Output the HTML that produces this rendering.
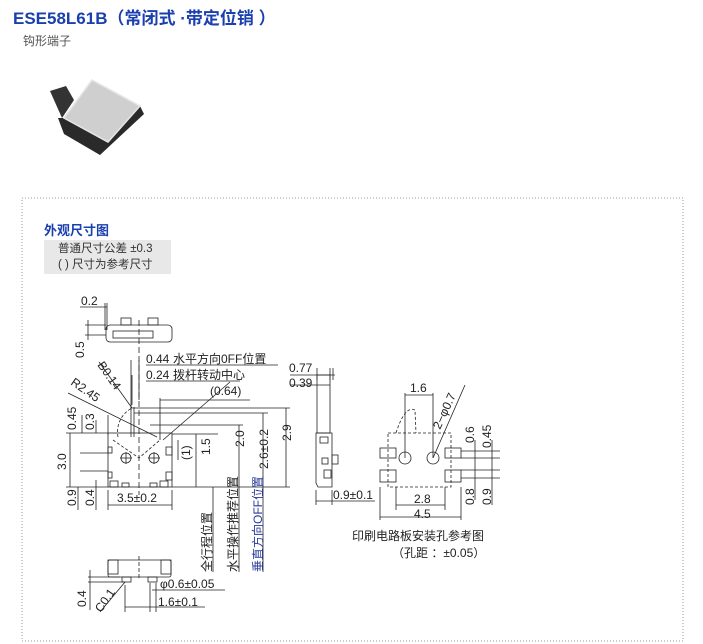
<!DOCTYPE html>
<html><head><meta charset="utf-8"><style>
body{margin:0;background:#fff;width:703px;height:644px;overflow:hidden;font-family:"Liberation Sans","Noto Sans CJK SC",sans-serif}
.t{position:absolute;white-space:nowrap}
</style></head><body>
<div class="t" style="left:13px;top:4px;font-size:17px;font-weight:bold;color:#1a3fae">ESE58L61B（常闭式 ·带定位销 ）</div>
<div class="t" style="left:23px;top:32px;font-size:12px;color:#555">钩形端子</div>
<svg style="position:absolute;left:0;top:0" width="703" height="644">
<!-- photo -->
<path d="M50 91 L66 86 L74 100 L62 118 Z" fill="#333"/>
<path d="M58 118 L64 134 L100 155 L144 114 L140 106 L108 142 L64 118 Z" fill="#2a2a2a"/>
<path d="M64 118 L92 80 L140 106 L108 142 Z" fill="#cfcfcf" stroke="#e6e6e6" stroke-width="1.5"/>
<rect x="22" y="198" width="661" height="443" fill="none" stroke="#999" stroke-dasharray="1,2"/>
<g stroke="#222" stroke-width="0.8" fill="none">
<rect x="106" y="325" width="66" height="17" rx="4"/>
<rect x="121" y="318" width="10" height="7"/><rect x="148" y="318" width="10" height="7"/>
<rect x="113" y="331" width="40" height="7"/>
<line x1="80" y1="307" x2="107" y2="307"/><line x1="105" y1="303" x2="105" y2="330"/><line x1="107" y1="303" x2="107" y2="330"/>
<line x1="85" y1="325" x2="106" y2="325"/><line x1="85" y1="335" x2="106" y2="335"/><line x1="88" y1="320" x2="88" y2="340"/>
<line x1="139" y1="320" x2="139" y2="495" stroke-dasharray="6,3"/>
<rect x="108" y="433" width="64" height="54"/>
<rect x="110" y="481" width="8" height="6"/><rect x="160" y="481" width="8" height="6"/><rect x="122" y="483" width="7" height="4"/><rect x="150" y="483" width="7" height="4"/>
<rect x="166" y="447" width="6" height="8"/><rect x="166" y="472" width="6" height="8"/><rect x="108" y="447" width="4" height="6"/><rect x="108" y="472" width="4" height="6"/>
<circle cx="126" cy="458" r="5"/><circle cx="154" cy="458" r="5"/>
<line x1="120" y1="458" x2="132" y2="458"/><line x1="126" y1="452" x2="126" y2="464"/>
<line x1="148" y1="458" x2="160" y2="458"/><line x1="154" y1="452" x2="154" y2="464"/>
<path d="M118 437 A27 27 0 0 1 132 408" stroke-dasharray="3,2"/>
<path d="M113 440 L139 458 L160 440" stroke-dasharray="3,2"/>
<line x1="108" y1="415" x2="108" y2="435"/>
<line x1="131" y1="407" x2="131" y2="437"/><line x1="134" y1="407" x2="134" y2="437"/>
<line x1="146" y1="365" x2="278" y2="365"/><line x1="146" y1="381" x2="240" y2="381"/>
<line x1="131" y1="360" x2="131" y2="410"/><line x1="139" y1="360" x2="139" y2="400"/><line x1="132" y1="375" x2="132" y2="405"/>
<line x1="160" y1="400" x2="250" y2="400"/><line x1="160" y1="398" x2="160" y2="440"/>
<line x1="230" y1="382" x2="163" y2="440"/>
<line x1="99" y1="362" x2="132" y2="408"/><line x1="68" y1="393" x2="157" y2="437"/>
<line x1="132" y1="408" x2="290" y2="408"/><line x1="134" y1="413" x2="268" y2="413"/><line x1="150" y1="425" x2="243" y2="425"/><line x1="172" y1="434" x2="218" y2="434"/>
<line x1="172" y1="487" x2="290" y2="487"/>
<line x1="286" y1="408" x2="286" y2="487"/><line x1="263" y1="413" x2="263" y2="572"/><line x1="239" y1="425" x2="239" y2="572"/><line x1="196" y1="434" x2="196" y2="487"/>
<line x1="213" y1="487" x2="213" y2="572"/><line x1="178" y1="440" x2="178" y2="460"/>
<line x1="66" y1="433" x2="108" y2="433"/><line x1="66" y1="487" x2="108" y2="487"/><line x1="70" y1="433" x2="70" y2="487"/>
<line x1="82" y1="415" x2="82" y2="433"/><line x1="96" y1="420" x2="96" y2="433"/>
<line x1="80" y1="453" x2="108" y2="453"/><line x1="80" y1="471" x2="108" y2="471"/>
<line x1="78" y1="487" x2="78" y2="510"/><line x1="96" y1="480" x2="96" y2="510"/>
<line x1="108" y1="490" x2="108" y2="510"/><line x1="172" y1="490" x2="172" y2="510"/><line x1="108" y1="505" x2="172" y2="505"/>
<rect x="108" y="560" width="63" height="17" rx="2"/>
<rect x="108" y="560" width="10" height="14"/><rect x="161" y="560" width="10" height="14"/>
<rect x="122" y="577" width="9" height="5"/><rect x="148" y="577" width="9" height="5"/>
<line x1="139" y1="556" x2="139" y2="580" stroke-dasharray="4,2"/>
<line x1="88" y1="577" x2="120" y2="577"/><line x1="88" y1="582" x2="125" y2="582"/><line x1="90" y1="570" x2="90" y2="610"/>
<line x1="100" y1="612" x2="125" y2="582"/>
<line x1="152" y1="590" x2="225" y2="590"/><line x1="150" y1="583" x2="150" y2="612"/><line x1="156" y1="583" x2="156" y2="612"/>
<line x1="125" y1="607" x2="205" y2="607"/><line x1="125" y1="585" x2="125" y2="612"/>
<rect x="317" y="375" width="13" height="58"/>
<path d="M316 433 L332 433 L332 487 L318 487 L316 483 Z"/>
<rect x="320" y="437" width="8" height="6"/><rect x="322" y="458" width="6" height="6"/><rect x="324" y="470" width="7" height="8"/><rect x="332" y="455" width="6" height="9"/>
<line x1="290" y1="375" x2="335" y2="375"/><line x1="290" y1="385" x2="330" y2="385"/>
<line x1="317" y1="368" x2="317" y2="380"/><line x1="330" y1="368" x2="330" y2="380"/><line x1="333" y1="368" x2="333" y2="380"/>
<line x1="316" y1="490" x2="316" y2="505"/><line x1="332" y1="490" x2="332" y2="505"/><line x1="316" y1="501" x2="375" y2="501"/>
<rect x="388" y="433" width="63" height="54" stroke-dasharray="3,2"/>
<path d="M396 433 Q405 405 415 410 L416 433" stroke-dasharray="3,2"/>
<rect x="380" y="448" width="16" height="10"/><rect x="445" y="448" width="16" height="10"/>
<rect x="380" y="470" width="16" height="12"/><rect x="445" y="470" width="16" height="12"/>
<circle cx="405" cy="458" r="6"/><circle cx="433" cy="458" r="6"/>
<line x1="405" y1="393" x2="405" y2="458"/><line x1="433" y1="393" x2="433" y2="458"/><line x1="405" y1="395" x2="433" y2="395"/>
<line x1="433" y1="458" x2="465" y2="385"/>
<line x1="461" y1="451" x2="500" y2="451"/><line x1="461" y1="458" x2="500" y2="458"/><line x1="461" y1="470" x2="500" y2="470"/><line x1="461" y1="478" x2="500" y2="478"/>
<line x1="475" y1="440" x2="475" y2="500"/><line x1="492" y1="440" x2="492" y2="505"/>
<line x1="396" y1="487" x2="396" y2="510"/><line x1="445" y1="487" x2="445" y2="510"/><line x1="396" y1="505" x2="445" y2="505"/>
<line x1="380" y1="487" x2="380" y2="520"/><line x1="461" y1="487" x2="461" y2="520"/><line x1="380" y1="517" x2="461" y2="517"/>
</g>
<g font-family="Liberation Sans,Noto Sans CJK SC,sans-serif" font-size="12" fill="#222">
<text x="81" y="305">0.2</text>
<text transform="translate(84,358) rotate(-90)">0.5</text>
<text x="146" y="363">0.44</text><text x="173" y="363">水平方向0FF位置</text>
<text x="146" y="379">0.24</text><text x="173" y="379">拨杆转动中心</text>
<text x="210" y="395">(0.64)</text>
<text transform="translate(97,365) rotate(55)">B0.14</text>
<text transform="translate(70,384) rotate(35)">R2.45</text>
<text transform="translate(291,441) rotate(-90)">2.9</text>
<text transform="translate(268,469) rotate(-90)">2.6±0.2</text>
<text transform="translate(244,447) rotate(-90)">2.0</text>
<text transform="translate(210,455) rotate(-90)">1.5</text>
<text transform="translate(190,460) rotate(-90)">(1)</text>
<text transform="translate(211,572) rotate(-90)">全行程位置</text>
<text transform="translate(237,572) rotate(-90)">水平操作推荐位置</text>
<text transform="translate(262,572) rotate(-90)" fill="#2a3a9a">垂直方向OFF位置</text>
<text transform="translate(76,430) rotate(-90)">0.45</text>
<text transform="translate(94,430) rotate(-90)">0.3</text>
<text transform="translate(66,470) rotate(-90)">3.0</text>
<text transform="translate(76,506) rotate(-90)">0.9</text>
<text transform="translate(94,506) rotate(-90)">0.4</text>
<text x="117" y="502">3.5±0.2</text>
<text transform="translate(86,607) rotate(-90)">0.4</text>
<text transform="translate(101,613) rotate(-55)">C0.1</text>
<text x="160" y="588">φ0.6±0.05</text>
<text x="158" y="606">1.6±0.1</text>
<text x="289" y="372">0.77</text><text x="289" y="387">0.39</text>
<text x="333" y="499">0.9±0.1</text>
<text x="410" y="392">1.6</text>
<text transform="translate(440,430) rotate(-65)">2−φ0.7</text>
<text transform="translate(474,443) rotate(-90)">0.6</text>
<text transform="translate(491,448) rotate(-90)">0.45</text>
<text transform="translate(474,505) rotate(-90)">0.8</text>
<text transform="translate(491,505) rotate(-90)">0.9</text>
<text x="414" y="503">2.8</text><text x="414" y="518">4.5</text>
<text x="352" y="540">印刷电路板安装孔参考图</text>
<text x="392" y="557">（孔距 ：±0.05）</text>
</g>
</svg>
<div class="t" style="left:44px;top:220px;font-size:13px;font-weight:bold;color:#1a3fae">外观尺寸图</div>
<div class="t" style="left:44px;top:240px;width:127px;height:34px;background:#e8e8e8;font-size:11.5px;color:#333;line-height:16px;padding-left:14px;box-sizing:border-box;padding-top:1px">普通尺寸公差 ±0.3<br>( ) 尺寸为参考尺寸</div>
</body></html>
